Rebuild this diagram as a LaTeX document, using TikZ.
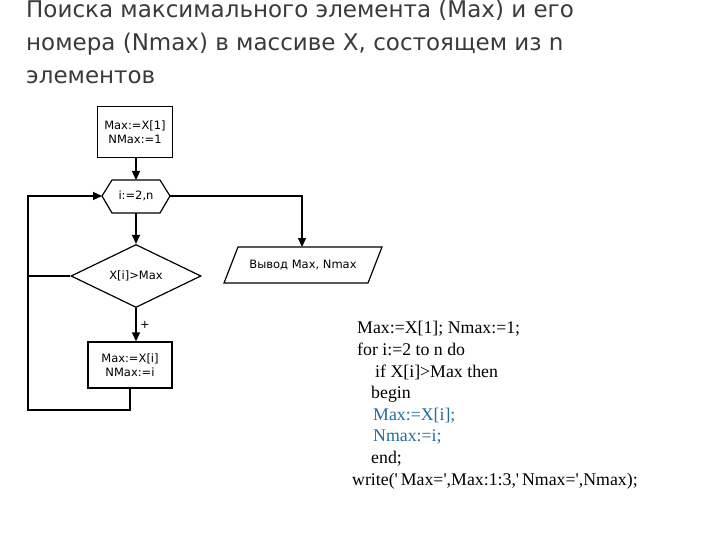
\documentclass[tikz,border=0pt]{standalone}
\usepackage{fontspec}
\setmainfont{Liberation Serif}
\newfontfamily\ttl{DejaVu Sans}
\newfontfamily\fc{DejaVu Sans}
\usetikzlibrary{shapes.geometric,arrows.meta}
\definecolor{ttlc}{HTML}{3A3A3A}
\definecolor{blu}{HTML}{1F6E9C}
\begin{document}
\begin{tikzpicture}[x=1pt,y=-1pt,
  ln/.style={line width=1.2pt},
  arr/.style={ln,-{Triangle[length=9pt,width=8pt]}},
  fct/.style={font=\fc\fontsize{11.5}{13.5}\selectfont,align=center},
  code/.style={anchor=base west,inner sep=0,font=\fontsize{17.8}{19}\selectfont},
  title/.style={anchor=base west,inner sep=0,text=ttlc,font=\ttl\fontsize{23}{26}\selectfont}]
\useasboundingbox (0,0) rectangle (720,540);
\node[title] (t1) at (26,18) {Поиска максимального элемента (Max) и его};
\node[title] (t2) at (26,51) {номера (Nmax) в массиве X, состоящем из n};
\node[title] (t3) at (26,84) {элементов};
% flowchart
\node[ln,draw,fct,minimum width=75pt,minimum height=51pt] (b1) at (135,132) {Max:=X[1]\\NMax:=1};
\draw[ln] (102,196) -- (112,180) -- (160,180) -- (170,196) -- (160,213) -- (112,213) -- cycle;
\node[fct] (h) at (136,196) {i:=2,n};
\coordinate (hl) at (102,196); \coordinate (hr) at (170,196);
\coordinate (ht) at (136,180); \coordinate (hb) at (136,213);
\node[ln,draw,diamond,aspect=2.05,fct,minimum width=130pt,minimum height=63pt,inner sep=0] (d) at (136,276) {X[i]>Max};
\node[ln,draw,fct,minimum width=84pt,minimum height=46pt] (b2) at (130,365) {Max:=X[i]\\NMax:=i};
\draw[ln] (238,247) -- (382,247) -- (368,283) -- (224,283) -- cycle;
\node[fct] (o) at (303,265) {Вывод Max, Nmax};
\coordinate (ot) at (302,247);
\draw[arr] (b1.south -| ht) -- (ht);
\draw[arr] (hb) -- (d.north);
\draw[arr] (d.south) -- (b2.north -| d.south);
\node[fct] (plus) at (145,325) {+};
\coordinate (c1) at (28,410);
\draw[arr] (b2.south) -- (b2.south |- c1) -- (c1) -- (28,196) -- (hl);
\draw[ln] (d.west) -- (28,276);
\draw[arr] (hr) -- (302,196) -- (ot);
% code
\node[code] (l1) at (357,333) {Max:=X[1]; Nmax:=1;};
\node[code] (l2) at (357,355) {for i:=2 to n do};
\node[code] (l3) at (375,377) {if X[i]>Max then};
\node[code] (l4) at (371,398) {begin};
\node[code,text=blu] (l5) at (373,420) {Max:=X[i];};
\node[code,text=blu] (l6) at (373,441) {Nmax:=i;};
\node[code] (l7) at (371,463) {end;};
\node[code] (l8) at (352,485) {write(\textquotesingle\,Max=\textquotesingle,Max:1:3,\textquotesingle\,Nmax=\textquotesingle,Nmax);};
\end{tikzpicture}
\end{document}
